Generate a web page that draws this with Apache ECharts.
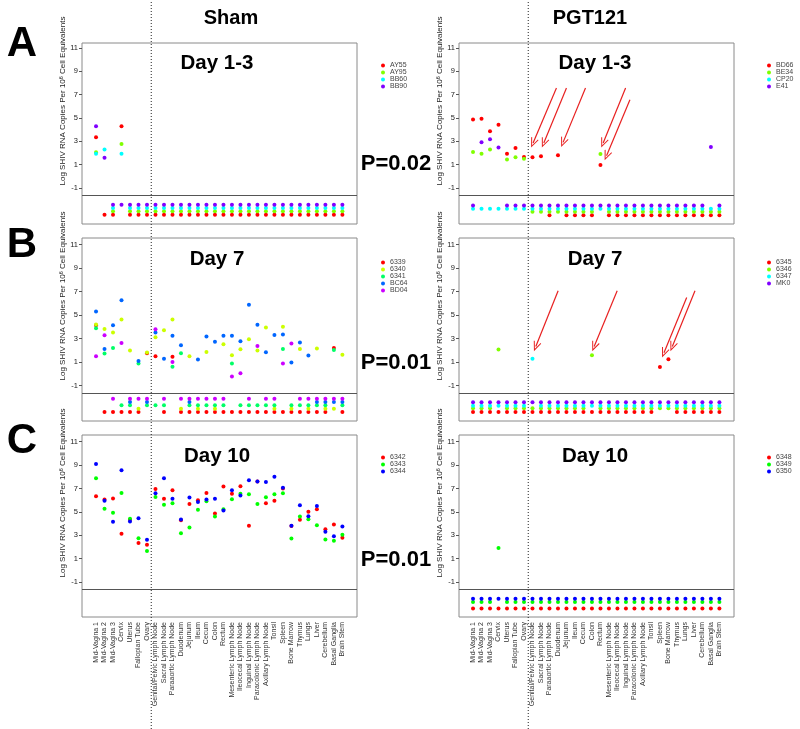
<!DOCTYPE html>
<html><head><meta charset="utf-8">
<script src="https://cdn.jsdelivr.net/npm/echarts@6/dist/echarts.min.js"></script>
<style>html,body{margin:0;padding:0;background:#fff}#c{width:800px;height:729px}</style>
</head><body><div id="c"></div>
<script>
const N = 'nd', _ = null;
const FONT = '"Liberation Sans", Arial, sans-serif';

const tissues = ['Mid-Vagina 1','Mid-Vagina 2','Mid-Vagina 3','Cervix','Uterus','Fallopian Tube','Ovary',
  'Genital/Pelvic Lymph Node','Sacral Lymph Node','Paraaortic Lymph Node','Duodenum','Jejunum','Ileum','Cecum',
  'Colon','Rectum','Mesenteric Lymph Node','Ileocecal Lymph Node','Inguinal Lymph Node','Paracolonic Lymph Node',
  'Axillary Lymph Node','Tonsil','Spleen','Bone Marrow','Thymus','Lungs','Liver','Cerebellum','Basal Ganglia','Brain Stem'];
const yTicks = [-1, 1, 3, 5, 7, 9, 11];
const sepLevel = -1.65;

const rainbow4 = ['#FF0000','#80FF00','#00FFFF','#8000FF'];
const rainbow5 = ['#FF0000','#CCFF00','#00FF66','#0066FF','#CC00FF'];
const rainbow3 = ['#FF0000','#00FF00','#0000FF'];

// ---- Panel A, Sham, Day 1-3 ----
const shamA_names = ['AY55','AY95','BB60','BB90'];
const shamA_nd = [-3.3, -3.0, -2.72, -2.44];
const AY55 = [3.34,N,N,4.29,N,N,N,N,N,N, N,N,N,N,N,N,N,N,N,N, N,N,N,N,N,N,N,N,N,N];
const AY95 = [2.06,_,N,2.77,N,N,N,N,N,N, N,N,N,N,N,N,N,N,N,N, N,N,N,N,N,N,N,N,N,N];
const BB60 = [1.94,2.29,N,1.94,N,N,N,N,N,N, N,N,N,N,N,N,N,N,N,N, N,N,N,N,N,N,N,N,N,N];
const BB90 = [4.29,1.6,N,N,N,N,N,N,N,N, N,N,N,N,N,N,N,N,N,N, N,N,N,N,N,N,N,N,N,N];

// ---- Panel A, PGT121, Day 1-3 ----
const pgtA_names = ['BD66','BE34','CP20','E41'];
const pgtA_nd = [-3.35, -3.03, -2.78, -2.5];
const BD66 = [4.86,4.94,3.86,4.43,1.94,2.43,1.66,1.63,1.71,N, 1.8,N,N,N,N,0.97,N,N,N,N, N,N,N,N,N,N,N,N,N,N];
const BE34 = [2.09,1.94,2.29,_,1.43,1.63,1.51,N,N,N, N,N,N,N,N,1.91,N,N,N,N, N,N,N,N,N,N,N,N,N,N];
const CP20 = [N,N,N,N,N,N,N,N,N,N, N,N,N,N,N,N,N,N,N,N, N,N,N,N,N,N,N,N,N,N];
const E41  = [N,2.91,3.17,2.46,N,N,N,N,N,N, N,N,N,N,N,N,N,N,N,N, N,N,N,N,N,N,N,N,2.51,N];
const pgtA_arrows = [[9.82,7.57,7.07,2.86],[11.0,7.57,8.33,2.86],[13.24,7.57,10.6,2.91],
  [17.96,7.57,15.32,2.86],[18.47,6.57,15.72,1.77],[31.04,8.14,28.36,3.43]];

// ---- Panel B, Sham, Day 7 ----
const shamB_names = ['6339','6340','6341','BC64','BD04'];
const shamB_nd = [-3.24, -2.96, -2.67, -2.39, -2.11];
const s6339 = [4.15,N,N,N,N,N,1.76,1.5,N,1.45, N,N,N,N,N,N,N,N,N,N, N,N,N,N,N,N,N,N,2.21,N];
const s6340 = [4.2,3.83,3.52,4.63,2.0,N,1.82,3.12,3.72,4.63, N,1.5,N,1.87,N,2.53,1.59,2.1,2.95,2.0, 3.95,N,4.01,N,2.13,N,2.16,N,N,1.64];
const s6341 = [3.89,1.73,2.21,N,N,0.88,N,N,N,0.6, 1.76,N,N,N,N,N,0.88,N,N,N, N,N,2.13,N,N,N,N,N,2.04,N];
const BC64  = [5.31,2.13,4.15,6.28,N,1.1,N,3.52,1.3,3.24, 2.44,N,1.22,3.18,2.73,3.24,3.24,2.78,5.88,4.18, 1.84,3.32,3.35,0.96,2.67,1.56,N,N,N,N];
const BD04  = [1.5,3.3,N,2.64,N,N,N,3.81,N,1.02, N,N,N,N,N,N,-0.23,0.05,N,2.38, N,N,0.88,2.58,N,N,N,N,N,N];

// ---- Panel B, PGT121, Day 7 ----
const pgtB_names = ['6345','6346','6347','MK0'];
const pgtB_nd = [-3.24, -2.93, -2.71, -2.42];
const s6345 = [N,N,N,N,N,N,N,N,N,N, N,N,N,N,N,N,N,N,N,N, N,N,0.59,1.25,N,N,N,N,N,N];
const s6346 = [N,N,N,2.07,N,N,N,N,N,N, N,N,N,N,1.59,N,N,N,N,N, N,N,N,N,N,N,N,N,N,N];
const s6347 = [N,N,N,N,N,N,N,1.3,N,N, N,N,N,N,N,N,N,N,N,N, N,N,N,N,N,N,N,N,N,N];
const MK0   = [N,N,N,N,N,N,N,N,N,N, N,N,N,N,N,N,N,N,N,N, N,N,N,N,N,N,N,N,N,N];
const pgtB_arrows = [[10.02,7.08,7.39,2.33],[16.97,7.08,14.26,2.33],[25.15,6.51,22.48,1.8],[26.13,7.08,23.46,2.33]];

// ---- Panel C, Sham, Day 10 ----
const shamC_names = ['6342','6343','6344'];
const shamC_nd = [-3.26, -2.71, -2.42];
const s6342 = [6.34,6.05,6.14,3.12,4.32,2.33,2.19,6.96,6.11,6.85, 4.29,5.68,6.0,6.62,4.86,7.16,6.54,7.19,3.81,7.59, 5.74,5.94,6.99,3.78,4.32,5.0,5.23,3.52,3.92,2.78];
const s6343 = [7.87,5.26,4.92,6.62,4.4,2.75,1.65,6.28,5.6,5.74, 3.18,3.66,5.17,5.91,4.6,5.23,6.08,6.54,6.51,5.68, 6.25,6.51,6.59,2.73,4.6,4.37,3.86,2.64,2.53,3.04];
const s6344 = [9.09,5.94,4.15,8.55,4.18,4.46,2.61,6.59,7.87,6.11, 4.35,6.22,5.85,6.05,6.11,5.11,6.85,6.39,7.7,7.59, 7.56,8.01,7.05,3.81,5.57,4.63,5.51,3.29,2.92,3.75];

// ---- Panel C, PGT121, Day 10 ----
const pgtC_names = ['6348','6349','6350'];
const pgtC_nd = [-3.26, -2.71, -2.42];
const s6348 = [N,N,N,N,N,N,N,N,N,N, N,N,N,N,N,N,N,N,N,N, N,N,N,N,N,N,N,N,N,N];
const s6349 = [N,N,N,1.9,N,N,N,N,N,N, N,N,N,N,N,N,N,N,N,N, N,N,N,N,N,N,N,N,N,N];
const s6350 = [N,N,N,N,N,N,N,N,N,N, N,N,N,N,N,N,N,N,N,N, N,N,N,N,N,N,N,N,N,N];

const dayTitles = ['Day 1-3','Day 7','Day 10'];
const pValues = ['P=0.02','P=0.01','P=0.01'];
const panelLetters = ['A','B','C'];
const groupTitles = ['Sham','PGT121'];

// ---------- layout ----------
const panels = [
  {names: shamA_names, colors: rainbow4, nd: shamA_nd, vals: [AY55,AY95,BB60,BB90], row:0, col:0},
  {names: pgtA_names,  colors: rainbow4, nd: pgtA_nd,  vals: [BD66,BE34,CP20,E41], row:0, col:1, arrows: pgtA_arrows},
  {names: shamB_names, colors: rainbow5, nd: shamB_nd, vals: [s6339,s6340,s6341,BC64,BD04], row:1, col:0},
  {names: pgtB_names,  colors: rainbow4, nd: pgtB_nd,  vals: [s6345,s6346,s6347,MK0], row:1, col:1, arrows: pgtB_arrows},
  {names: shamC_names, colors: rainbow3, nd: shamC_nd, vals: [s6342,s6343,s6344], row:2, col:0},
  {names: pgtC_names,  colors: rainbow3, nd: pgtC_nd,  vals: [s6348,s6349,s6350], row:2, col:1}
];
const rowTop = [43, 238, 435], rowH = [181, 183, 182];
const rowY = [[-4.09, 11.43], [-4.01, 11.57], [-3.99, 11.57]];
const colLeft = [82, 459], gridW = 275;
const legendLeft = [381, 767], legendTop = [62, 259, 454];
const xMin = -1.65, xMax = 30.72;
const tissueIdx = tissues.map((t, i) => i);

const grids = [], xAxes = [], yAxes = [], series = [], legends = [];
panels.forEach((p, g) => {
  grids.push({left: colLeft[p.col], top: rowTop[p.row], width: gridW, height: rowH[p.row],
    show: true, borderColor: '#8a8a8a', borderWidth: 1, backgroundColor: 'transparent',
    containLabel: false, outerBoundsMode: 'none'});
  xAxes.push({gridIndex: g, type: 'value', min: xMin, max: xMax, position: 'bottom',
    axisLine: {show: false, onZero: false}, axisTick: {show: false}, splitLine: {show: false},
    axisLabel: p.row === 2 ? {show: true, customValues: tissueIdx, formatter: v => tissues[v] || '',
      rotate: 90, fontSize: 7, color: '#333', margin: 5, fontFamily: FONT} : {show: false}});
  yAxes.push({gridIndex: g, type: 'value', min: rowY[p.row][0], max: rowY[p.row][1], position: 'left',
    axisLine: {show: false, onZero: false}, splitLine: {show: false},
    axisTick: {show: true, inside: false, customValues: yTicks, length: 3, lineStyle: {color: '#555'}},
    axisLabel: {show: true, customValues: yTicks, fontSize: 7.5, color: '#222', margin: 4, fontFamily: FONT}});
  p.vals.forEach((arr, k) => {
    const data = [];
    arr.forEach((v, i) => { if (v !== null) data.push([i, v === N ? p.nd[k] : v]); });
    const s = {type: 'scatter', name: p.names[k], xAxisIndex: g, yAxisIndex: g, symbolSize: 4,
      itemStyle: {color: p.colors[k], opacity: 1}, data: data, animation: false, z: 3};
    if (k === 0) {
      s.markLine = {silent: true, symbol: ['none','none'], label: {show: false}, animation: false,
        lineStyle: {color: '#555', type: 'solid', width: 1}, data: [{yAxis: sepLevel}]};
    }
    series.push(s);
  });
  if (p.arrows) {
    series.push({type: 'scatter', name: 'arrows' + g, xAxisIndex: g, yAxisIndex: g, data: [], clip: false,
      animation: false, z: 4,
      markLine: {silent: true, animation: false, label: {show: false},
        symbol: ['none', 'path://M5 0 L10 12 L8.9 12.6 L5 3.2 L1.1 12.6 L0 12 Z'], symbolSize: [8, 10],
        lineStyle: {color: '#e82020', type: 'solid', width: 1.2},
        data: p.arrows.map(a => [{coord: [a[0], a[1]]}, {coord: [a[2], a[3]]}])}});
  }
  legends.push({data: p.names, left: legendLeft[p.col], top: legendTop[p.row], orient: 'vertical',
    icon: 'circle', itemWidth: 4, itemHeight: 4, itemGap: 0, padding: 0, selectedMode: false,
    textStyle: {fontSize: 7, lineHeight: 7, color: '#444', fontFamily: FONT}});
});

const chart = echarts.init(document.getElementById('c'), null, {renderer: 'canvas'});
chart.setOption({backgroundColor: '#fff', animation: false, grid: grids, xAxis: xAxes, yAxis: yAxes,
  series: series, legend: legends});

function txt(x, y, text, size, bold, extra) {
  return Object.assign({type: 'text', x: x, y: y, z: 10, silent: true,
    style: {text: text, fontSize: size, fontWeight: bold ? 'bold' : 'normal', fontFamily: FONT, fill: '#000',
      align: 'center', verticalAlign: 'middle', textAlign: 'center', textVerticalAlign: 'middle'}}, extra || {});
}
const gfx = [];
// dotted separators between reproductive tract and other tissues
[0, 1].forEach(c => {
  const px = chart.convertToPixel({xAxisIndex: c}, 6.5);
  gfx.push({type: 'line', silent: true, z: 5, shape: {x1: px, y1: 2, x2: px, y2: 729},
    style: {stroke: '#222', lineWidth: 1, lineDash: [1, 2]}});
});
gfx.push(txt(231, 18, groupTitles[0], 20, true));
gfx.push(txt(590, 18, groupTitles[1], 20, true));
const letterY = [44, 245, 441];
const pY = [164, 363, 560];
const dayY = [63, 259, 456];
[0, 1, 2].forEach(r => {
  gfx.push(txt(22, letterY[r], panelLetters[r], 42, true));
  gfx.push(txt(396, pY[r], pValues[r], 22, true));
  gfx.push(txt(217, dayY[r], dayTitles[r], 20.5, true));
  gfx.push(txt(595, dayY[r], dayTitles[r], 20.5, true));
  [0, 1].forEach(c => {
    const t = txt(colLeft[c] - 19, rowTop[r] + 58, 'Log SHIV RNA Copies Per 10{s|6} Cell Equivalents', 8, false,
      {rotation: Math.PI / 2});
    t.style.fill = '#222';
    t.style.rich = {s: {fontSize: 5.5, fontFamily: FONT, fill: '#222', verticalAlign: 'top', padding: [0, 0, 4, 0]}};
    gfx.push(t);
  });
});
chart.setOption({graphic: gfx});
</script>
</body></html>
